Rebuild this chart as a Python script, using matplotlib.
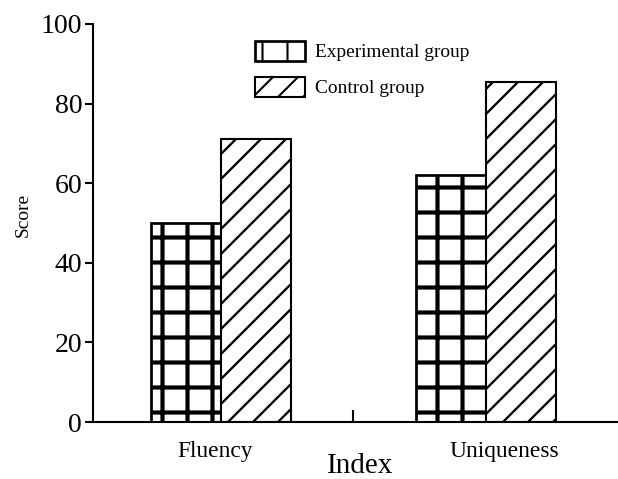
import matplotlib
matplotlib.use("Agg")
import matplotlib.pyplot as plt
import matplotlib.transforms as mtransforms
import numpy as np

categories = ["Fluency", "Uniqueness"]
experimental = [50, 62]
control = [71, 85.5]
series_names = ["Experimental group", "Control group"]
yticks = [0, 20, 40, 60, 80, 100]

plt.rcParams['font.family'] = ['Liberation Serif', 'DejaVu Serif']

DPI = 150
fig = plt.figure(figsize=(618 / DPI, 479 / DPI), dpi=DPI)
ax = fig.add_axes([93 / 618, 1 - 422 / 479, 1 - 93 / 618, (422 - 24) / 479])

x = np.arange(len(categories))
w = 0.264

with plt.rc_context({'hatch.linewidth': 2.0}):
    b1 = ax.bar(x - w / 2, experimental, w, facecolor='white', edgecolor='black',
                hatch='+', linewidth=1.3, label=series_names[0])
with plt.rc_context({'hatch.linewidth': 1.1}):
    b2 = ax.bar(x + w / 2, control, w, facecolor='white', edgecolor='black',
                hatch='//', linewidth=1.0, label=series_names[1])
for p in b1:
    if hasattr(p, 'set_hatch_linewidth'):
        p.set_hatch_linewidth(2.0)
for p in b2:
    if hasattr(p, 'set_hatch_linewidth'):
        p.set_hatch_linewidth(1.1)

ax.set_xlim(-0.483, 1.5)
ax.set_ylim(0, 100)
ax.set_yticks(yticks)
ax.set_yticklabels([str(t) for t in yticks], fontsize=13.4)
ax.tick_params(axis='y', direction='out', length=3.8, width=1.0, pad=1.4)
ax.set_xticks([0.5])
ax.set_xticklabels([''])
ax.tick_params(axis='x', direction='in', length=5.8, width=1.0)

for s in ['top', 'right']:
    ax.spines[s].set_visible(False)
for s in ['left', 'bottom']:
    ax.spines[s].set_linewidth(1.0)

trans = mtransforms.blended_transform_factory(ax.transData, ax.transAxes)
label_offsets = [-0.023, 0.07]
for xi, cat, off in zip(x, categories, label_offsets):
    ax.text(xi + off, -0.073, cat, transform=trans, ha='center', va='center', fontsize=11.3)

fig.text(360 / 618, 1 - 466 / 479, "Index", ha='center', va='center', fontsize=14.0)
fig.text(23 / 618, 1 - 215 / 479, "Score", ha='center', va='center', rotation=90, fontsize=9.3)

leg = fig.legend(handles=[b1, b2], labels=series_names, loc='upper left',
                 bbox_to_anchor=(255 / 618, 1 - 41 / 479), frameon=False,
                 fontsize=9.3, handlelength=2.6, handleheight=1.2,
                 labelspacing=0.8, handletextpad=0.5, borderpad=0, borderaxespad=0)

fig.savefig("out.png", dpi=DPI)
